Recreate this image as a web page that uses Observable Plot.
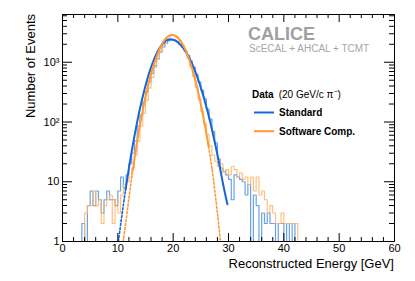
<!DOCTYPE html>
<html><head><meta charset="utf-8">
<script src="https://cdn.jsdelivr.net/npm/d3@7"></script>
<script src="https://cdn.jsdelivr.net/npm/@observablehq/plot@0.6"></script>
<style>
body{margin:0;background:#fff;}
#chart{position:relative;width:415px;height:281px;}
</style></head><body><div id="chart"></div>
<script>
// ---- data ----
const binWidth = 0.5;   // GeV
const binStart = 3.5;   // first listed bin lower edge (GeV)
// Standard reconstruction, counts per 0.5 GeV bin from 3.5 GeV up
const standardCounts = [
  2, 0, 4, 7, 4, 7, 5, 3, 5, 7, 5, 5, 4, 7, 12, 8, 13, 20, 30, 48,
  85, 130, 215, 320, 470, 650, 880, 1150, 1480, 1800, 2080, 2300, 2400, 2350, 2220, 2000, 1800, 1540, 1300, 1050,
  830, 630, 470, 340, 245, 165, 112, 70, 45, 24, 17, 15, 13, 11, 5, 13, 12, 11, 10, 6,
  9, 0, 6, 4, 0, 3, 2, 3, 2, 2, 0, 2, 2, 0, 2, 0, 2, 0, 0, 0
];
// Software compensation, counts per 0.5 GeV bin from 3.5 GeV up
const softwareCounts = [
  0, 3, 4, 4, 7, 4, 5, 2, 4, 5, 6, 2, 5, 3, 6, 9, 10, 12, 17, 28,
  48, 85, 140, 230, 370, 560, 820, 1130, 1530, 1960, 2370, 2670, 2830, 2820, 2640, 2330, 1950, 1540, 1170, 840,
  580, 380, 240, 150, 95, 62, 40, 28, 22, 18, 20, 14, 16, 13, 18, 16, 12, 14, 11, 12,
  9, 12, 7, 12, 6, 7, 5, 3, 4, 3, 2, 2, 3, 2, 2, 2, 2, 2, 0, 0
];
// Gaussian fit curves: solid = fit range, dotted = extension
const standardFitE = [11.4, 12, 12.5, 13, 14, 15, 16, 17, 18, 18.5, 19, 19.5, 20, 20.5, 21, 22, 23, 24, 25, 26, 27, 28, 29, 29.8];
const standardFitV = [7.4, 16.9, 32, 58, 168, 405, 821, 1394, 1984, 2216, 2367, 2420, 2383, 2275, 2107, 1647, 1139, 696, 376, 180, 75.8, 28.3, 9.35, 4.2];
const standardExtE = [10.1, 10.6, 11.0, 11.4];
const standardExtV = [1.0, 2.23, 4.11, 7.4];
const softwareFitE = [12.7, 13, 13.5, 14, 15, 16, 17, 18, 18.5, 19, 19.5, 19.8, 20.3, 21, 22, 23, 24, 25, 26, 26.4];
const softwareFitV = [15.7, 24, 47.4, 88.6, 264, 644, 1230, 2046, 2402, 2677, 2833, 2860, 2790, 2481, 1773, 1040, 501, 198, 64, 38.7];
const softwareExtLeftE = [10.95, 11.5, 12, 12.5, 12.7];
const softwareExtLeftV = [1.0, 2.3, 5.3, 11.6, 15.7];
const softwareExtRightE = [26.4, 26.5, 27, 28, 28.55];
const softwareExtRightV = [38.7, 34, 17, 3.0, 1.0];
// axes
const xTicks = [0, 10, 20, 30, 40, 50, 60];
const xMinorTicks = d3.range(0, 61, 2).filter(d => d % 10 !== 0);
const yTicks = [1, 10, 100, 1000];
const yTickLabels = ["1", "10", "10\u00B2", "10\u00B3"];
const yMinorTicks = [1, 10, 100, 1000].flatMap(dec => [2,3,4,5,6,7,8,9].map(m => m * dec)).filter(v => v < 6300);
const seriesNames = ["Standard", "Software Comp."];

// ---- build ----
const W = 415, H = 281, mL = 62, mR = 21, mT = 14, mB = 40;
const innerW = W - mL - mR, innerH = H - mT - mB;
const cStdFit = "#1766d6", cStdHist = "#4f93e3";
const cSwFit = "#ff9a36", cSwHist = "#ffb46b";

function steps(counts) {
  const pts = [];
  const n = Math.round(60 / binWidth);
  const i0 = Math.round(binStart / binWidth);
  for (let i = 0; i < n; i++) {
    const c = counts[i - i0] || 0;
    pts.push({x: i * binWidth, y: c > 0 ? c : 1});
  }
  pts.push({x: 60, y: pts[pts.length - 1].y});
  return pts;
}
const zip = (E, V) => E.map((e, i) => ({x: e, y: V[i]}));

const plot = Plot.plot({
  width: W, height: H,
  marginLeft: mL, marginRight: mR, marginTop: mT, marginBottom: mB,
  style: {fontFamily: "'Liberation Sans', Arial, sans-serif", fontSize: "11px", background: "white", color: "#000"},
  x: {domain: [0, 60], ticks: xTicks, tickSize: 0, tickPadding: 3, label: null},
  y: {type: "log", domain: [1, 6300], ticks: yTicks, tickFormat: d => yTickLabels[yTicks.indexOf(d)], tickSize: 0, tickPadding: 3, label: null},
  marks: [
    Plot.line(steps(standardCounts), {x: "x", y: "y", curve: "step-after", stroke: cStdHist, strokeWidth: 1.2, strokeOpacity: 0.85, clip: true}),
    Plot.line(steps(softwareCounts), {x: "x", y: "y", curve: "step-after", stroke: cSwHist, strokeWidth: 1.2, strokeOpacity: 0.85, clip: true}),
    Plot.line(zip(standardExtE, standardExtV), {x: "x", y: "y", curve: "catmull-rom", stroke: cStdFit, strokeWidth: 1.6, strokeDasharray: "2,2", clip: true}),
    Plot.line(zip(standardFitE, standardFitV), {x: "x", y: "y", curve: "catmull-rom", stroke: cStdFit, strokeWidth: 2, clip: true}),
    Plot.line(zip(softwareExtLeftE, softwareExtLeftV), {x: "x", y: "y", curve: "catmull-rom", stroke: cSwFit, strokeWidth: 1.6, strokeDasharray: "2,2", clip: true}),
    Plot.line(zip(softwareExtRightE, softwareExtRightV), {x: "x", y: "y", curve: "catmull-rom", stroke: cSwFit, strokeWidth: 1.6, strokeDasharray: "2,2", clip: true}),
    Plot.line(zip(softwareFitE, softwareFitV), {x: "x", y: "y", curve: "catmull-rom", stroke: cSwFit, strokeWidth: 2, clip: true}),
    Plot.frame({stroke: "#000", strokeWidth: 1}),
    // inward ticks (ROOT style)
    Plot.ruleX(xTicks, {x: d => d, insetTop: innerH - 8, stroke: "#000"}),
    Plot.ruleX(xMinorTicks, {x: d => d, insetTop: innerH - 4, stroke: "#000"}),
    Plot.ruleX(xTicks, {x: d => d, insetBottom: innerH - 8, stroke: "#000"}),
    Plot.ruleX(xMinorTicks, {x: d => d, insetBottom: innerH - 4, stroke: "#000"}),
    Plot.ruleY(yTicks, {y: d => d, insetRight: innerW - 10, stroke: "#000"}),
    Plot.ruleY(yMinorTicks, {y: d => d, insetRight: innerW - 5, stroke: "#000"}),
    Plot.ruleY(yTicks, {y: d => d, insetLeft: innerW - 10, stroke: "#000"}),
    Plot.ruleY(yMinorTicks, {y: d => d, insetLeft: innerW - 5, stroke: "#000"})
  ]
});
document.getElementById("chart").appendChild(plot);

// ---- annotations ----
const svg = d3.select(plot);
const font = "'Liberation Sans', Arial, sans-serif";
const txt = () => svg.append("text").attr("font-family", font).attr("text-anchor", "start").attr("fill", "#000");
txt().attr("x", W - mR).attr("y", 268).attr("text-anchor", "end")
  .attr("font-size", 13).text("Reconstructed Energy [GeV]");
txt().attr("transform", `translate(35,${mT}) rotate(-90)`).attr("text-anchor", "end")
  .attr("font-size", 13).text("Number of Events");
txt().attr("x", 248).attr("y", 40).attr("font-size", 18)
  .attr("font-weight", "bold").attr("fill", "#a0a0a0").text("CALICE");
txt().attr("x", 249).attr("y", 51.5).attr("font-size", 10)
  .attr("fill", "#a6a6a6").text("ScECAL + AHCAL + TCMT");
const hdr = txt().attr("x", 252).attr("y", 97.5).attr("font-size", 10);
hdr.append("tspan").attr("font-weight", "bold").text("Data");
hdr.append("tspan").attr("dx", 5).text("(20 GeV/c \u03C0");
hdr.append("tspan").attr("dy", -4).attr("font-size", 7).text("\u2212");
hdr.append("tspan").attr("dy", 4).text(")");
const legColors = [cStdFit, cSwFit];
seriesNames.forEach((name, i) => {
  const y = 112.5 + i * 18.7;
  svg.append("line").attr("x1", 254).attr("x2", 274).attr("y1", y).attr("y2", y)
    .attr("stroke", legColors[i]).attr("stroke-width", 2);
  txt().attr("x", 279).attr("y", y + 3.6).attr("font-size", 10)
    .attr("font-weight", "bold").text(name);
});
</script>
</body></html>
